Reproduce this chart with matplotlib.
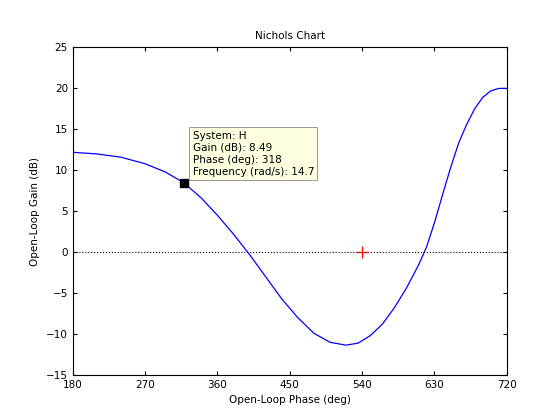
import matplotlib
matplotlib.use("Agg")
import matplotlib.pyplot as plt

phase = [180, 210, 240, 270, 295, 318, 340, 360, 380, 400, 420, 440, 460, 480, 500, 520, 535, 550, 565, 580, 595, 610, 620, 630, 640, 650, 660, 670, 680, 690, 700, 710, 720]
gain = [12.2, 12.0, 11.6, 10.8, 9.8, 8.49, 6.6, 4.5, 2.2, -0.3, -3.0, -5.7, -8.0, -9.9, -11.0, -11.35, -11.1, -10.2, -8.8, -6.8, -4.4, -1.6, 0.6, 3.6, 7.0, 10.3, 13.3, 15.6, 17.5, 18.9, 19.7, 20.0, 20.0]
tip = (318, 8.49)
xticks = [180, 270, 360, 450, 540, 630, 720]
yticks = [-15, -10, -5, 0, 5, 10, 15, 20, 25]

fig = plt.figure(figsize=(5.6, 4.2), dpi=100)
ax = fig.add_axes([0.130, 0.107, 0.775, 0.78])
ax.plot(phase, gain, color='blue', lw=0.9)
ax.axhline(0, color='black', ls=':', lw=0.8)
ax.plot([540], [0], marker='+', color='red', ms=8, mew=0.9)
ax.plot([tip[0]], [tip[1]], marker='s', color='black', ms=6)
ax.text(329, 14.85, "System: H\nGain (dB): 8.49\nPhase (deg): 318\nFrequency (rad/s): 14.7",
        fontsize=7.5, va='top', ha='left', linespacing=1.25,
        bbox=dict(boxstyle='square,pad=0.3', fc='#ffffe1', ec='#888888', lw=0.6))
ax.set_xlim(180, 720)
ax.set_ylim(-15, 25)
ax.set_xticks(xticks)
ax.set_yticks(yticks)
ax.tick_params(direction='in', labelsize=7.5, top=True, right=True, length=3)
ax.set_xlabel("Open-Loop Phase (deg)", fontsize=7.5)
ax.set_ylabel("Open-Loop Gain (dB)", fontsize=7.5)
ax.set_title("Nichols Chart", fontsize=7.5)
fig.savefig("out.png", dpi=100)
